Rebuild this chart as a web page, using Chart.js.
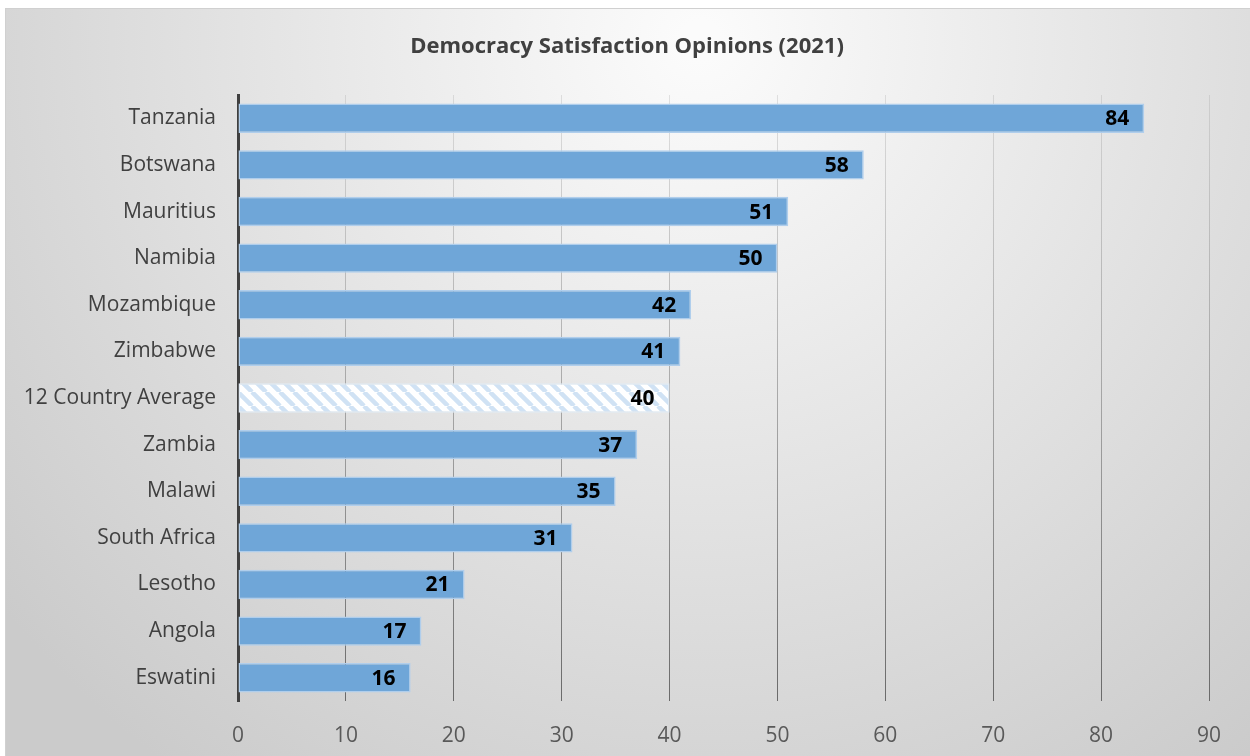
<!DOCTYPE html>
<html>
<head>
<meta charset="utf-8">
<script src="https://cdn.jsdelivr.net/npm/chart.js@4.4.1/dist/chart.umd.min.js"></script>
<style>
    html, body { margin: 0; padding: 0; background: #fff; }
    #wrap { width: 1250px; height: 756px; }
</style>
</head>
<body>
<div id="wrap"><canvas id="chart"></canvas></div>
<script>
const chartTitle = 'Democracy Satisfaction Opinions (2021)';
const countries = [
    'Tanzania', 'Botswana', 'Mauritius', 'Namibia', 'Mozambique', 'Zimbabwe',
    '12 Country Average', 'Zambia', 'Malawi', 'South Africa', 'Lesotho', 'Angola', 'Eswatini'
];
const satisfaction = [84, 58, 51, 50, 42, 41, 40, 37, 35, 31, 21, 17, 16];
const averageLabel = '12 Country Average';
const xTicks = [0, 10, 20, 30, 40, 50, 60, 70, 80, 90];

const FONT = '"Open Sans", "Noto Sans", sans-serif';
const BAR_BLUE = 'rgb(111,166,216)';

function makeHatch() {
    const size = 14,
        c = document.createElement('canvas');
    c.width = size;
    c.height = size;
    const g = c.getContext('2d');
    g.fillStyle = '#ffffff';
    g.fillRect(0, 0, size, size);
    g.strokeStyle = 'rgb(208,226,244)';
    g.lineWidth = 4.5;
    // "\" direction stripes, tiled seamlessly
    for (const off of [-size, 0, size]) {
        g.beginPath();
        g.moveTo(off, 0);
        g.lineTo(off + size, size);
        g.stroke();
    }
    return g.createPattern(c, 'repeat');
}

const hatch = makeHatch();

const backgroundPlugin = {
    id: 'panelBackground',
    beforeDraw(chart) {
        const {ctx, width, height} = chart;
        ctx.save();
        ctx.fillStyle = '#ffffff';
        ctx.fillRect(0, 0, width, height);
        const grad = ctx.createRadialGradient(700, 40, 20, 700, 40, 900);
        grad.addColorStop(0, '#fbfbfb');
        grad.addColorStop(0.5, '#e3e3e3');
        grad.addColorStop(1, '#cbcbcb');
        ctx.fillStyle = grad;
        ctx.fillRect(5, 8, width - 5, height - 8);
        ctx.strokeStyle = '#d0d0d0';
        ctx.lineWidth = 1;
        ctx.strokeRect(5.5, 8.5, width - 5, height - 8);
        ctx.restore();
    }
};

// title centred on the whole canvas, not on the padded layout box
const centeredTitlePlugin = {
    id: 'centeredTitle',
    afterDraw(chart) {
        const {ctx, width} = chart;
        ctx.save();
        ctx.font = `bold 22px ${FONT}`;
        ctx.fillStyle = '#404040';
        ctx.textAlign = 'center';
        ctx.textBaseline = 'middle';
        ctx.fillText(chartTitle, width / 2 + 2, 47);
        ctx.restore();
    }
};

const valueLabelPlugin = {
    id: 'valueLabels',
    afterDatasetsDraw(chart) {
        const {ctx} = chart,
            meta = chart.getDatasetMeta(0);
        ctx.save();
        ctx.font = `bold 21px ${FONT}`;
        ctx.fillStyle = '#000000';
        ctx.textAlign = 'right';
        ctx.textBaseline = 'middle';
        meta.data.forEach((bar, i) => {
            ctx.fillText(String(satisfaction[i]), bar.x - 15, bar.y + 1);
        });
        ctx.restore();
    }
};

new Chart(document.getElementById('chart'), {
    type: 'bar',
    data: {
        labels: countries,
        datasets: [{
            data: satisfaction,
            backgroundColor: countries.map(c => c === averageLabel ? hatch : BAR_BLUE),
            borderColor: countries.map(c => c === averageLabel ? 'rgb(225,235,245)' : 'rgb(176,206,236)'),
            borderWidth: 1.5,
            borderSkipped: false,
            categoryPercentage: 1,
            barPercentage: 0.63
        }]
    },
    options: {
        indexAxis: 'y',
        responsive: true,
        maintainAspectRatio: false,
        animation: false,
        layout: {
            padding: {top: 95, right: 41, bottom: 0, left: 0}
        },
        plugins: {
            legend: {display: false},
            tooltip: {enabled: false},
            title: {display: false}
        },
        scales: {
            x: {
                min: 0,
                max: 90,
                afterBuildTicks: scale => {
                    scale.ticks = xTicks.map(v => ({value: v}));
                },
                afterFit: scale => {
                    scale.height = 55;
                },
                border: {display: false},
                grid: {
                    drawTicks: false,
                    lineWidth: 1,
                    color: ctx => {
                        const area = ctx.chart.chartArea;
                        if (!area) {
                            return '#999';
                        }
                        const g = ctx.chart.ctx.createLinearGradient(0, area.top, 0, area.bottom);
                        g.addColorStop(0, 'rgba(150,150,150,0.25)');
                        g.addColorStop(1, 'rgba(100,100,100,0.95)');
                        return g;
                    }
                },
                ticks: {
                    color: '#595959',
                    padding: 22,
                    font: {family: FONT, size: 21}
                }
            },
            y: {
                afterFit: scale => {
                    scale.width = 238;
                },
                border: {display: true, color: '#404040', width: 3},
                grid: {display: false, drawTicks: false},
                ticks: {
                    color: '#404040',
                    padding: 22,
                    font: {family: FONT, size: 21}
                }
            }
        }
    },
    plugins: [backgroundPlugin, valueLabelPlugin, centeredTitlePlugin]
});
</script>
</body>
</html>
